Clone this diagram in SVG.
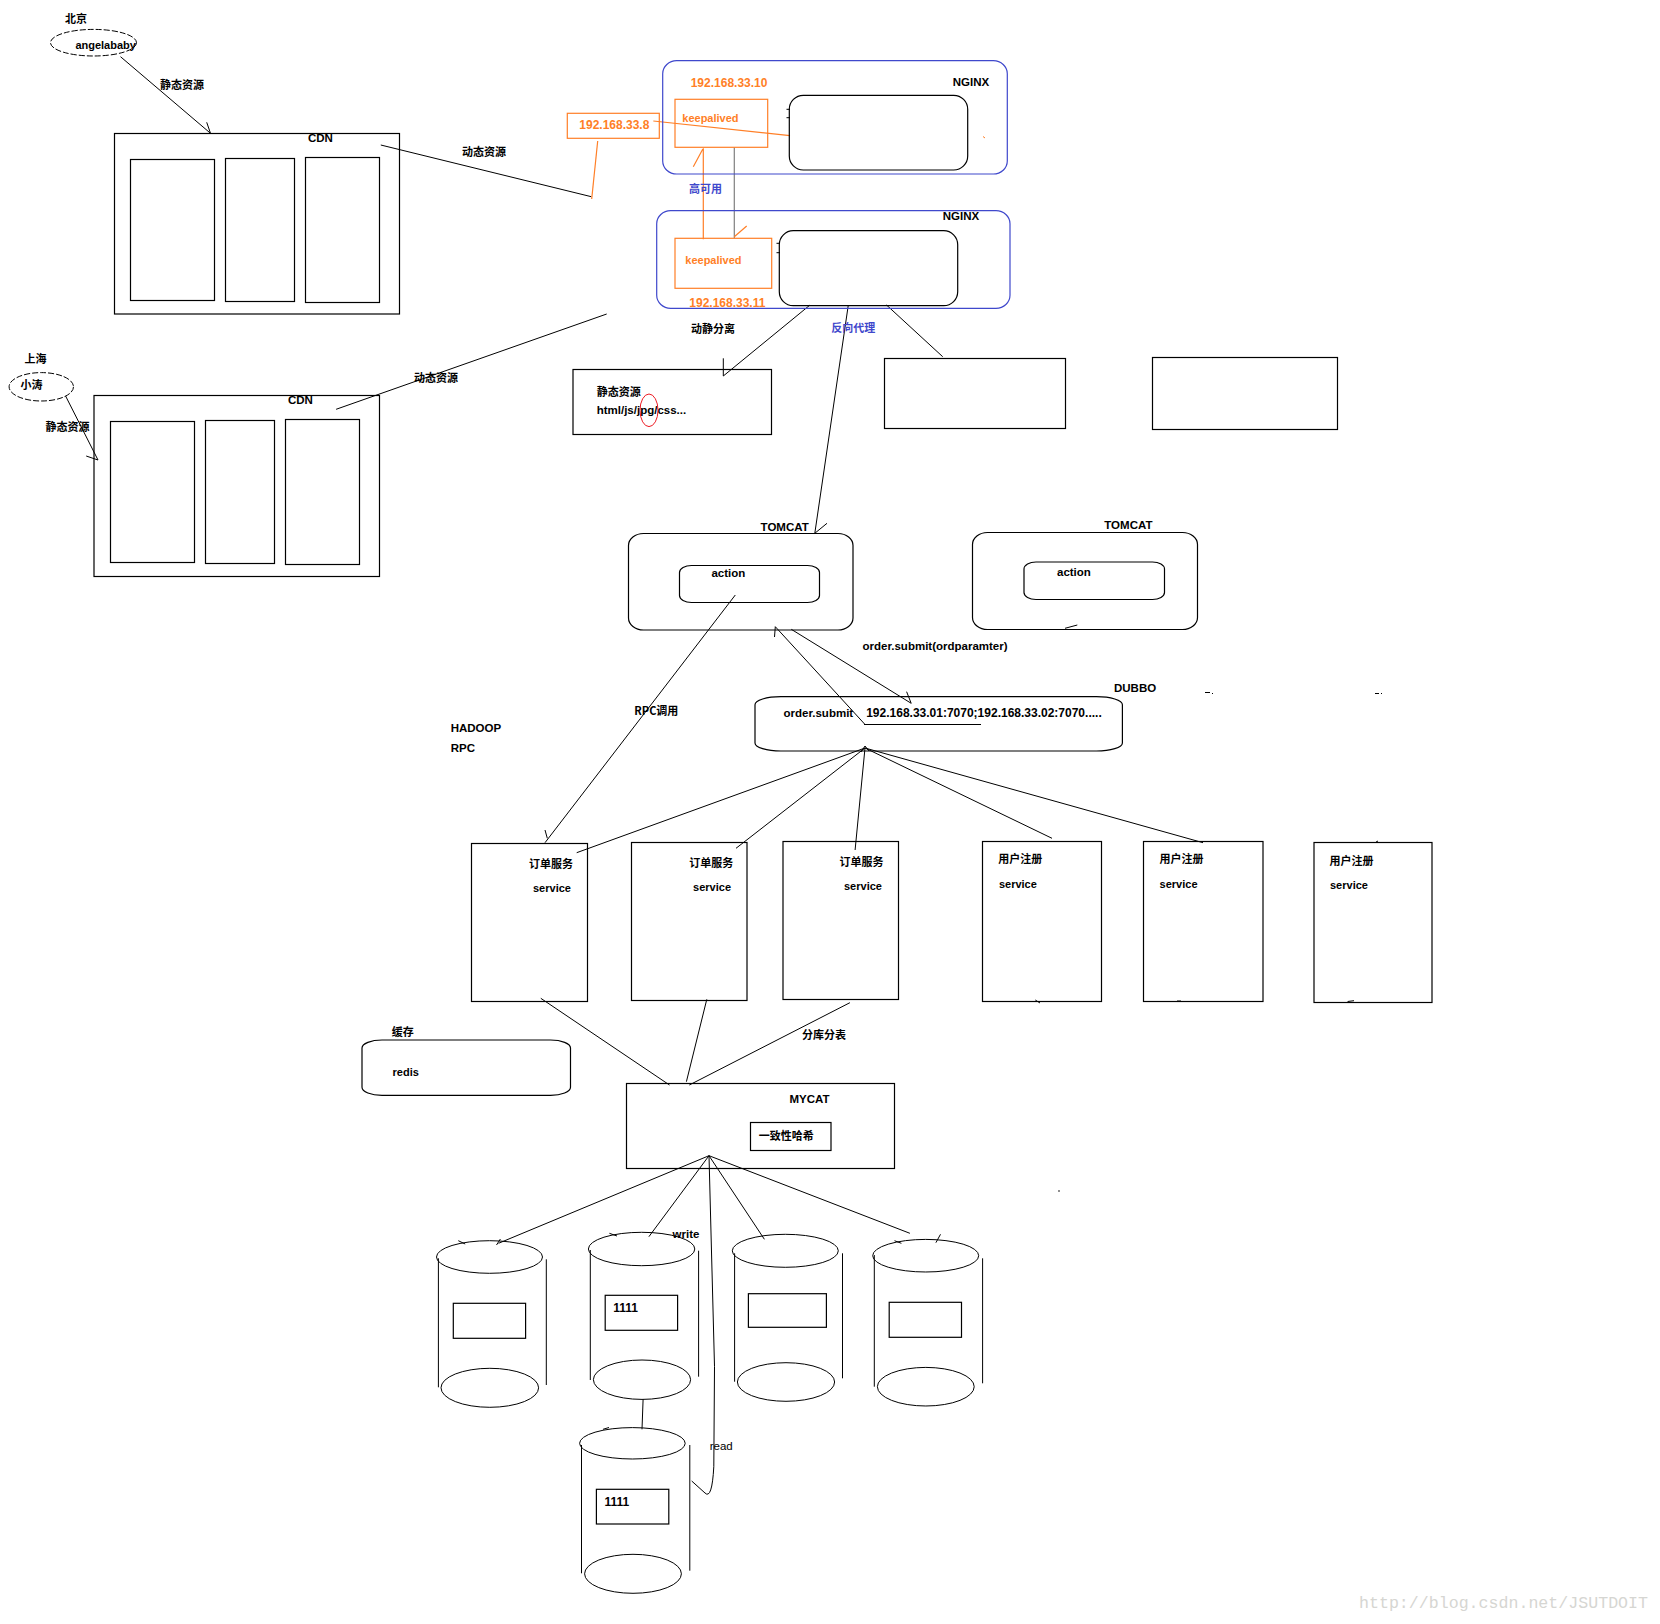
<svg xmlns="http://www.w3.org/2000/svg" width="1660" height="1624" viewBox="0 0 1660 1624">
<style>
.t{font-family:'Liberation Sans','Noto Sans CJK SC',sans-serif;font-size:11.5px;font-weight:bold;fill:#000}
.c{font-family:'Noto Sans CJK SC','Liberation Sans',sans-serif;font-size:11px;font-weight:bold;fill:#000}
.n{font-weight:normal}
.s{font-size:11px}
.or{fill:#ff7f27}
.bl{fill:#3f48cc}
.box{fill:none;stroke:#000;stroke-width:1.2}
.ln{fill:none;stroke:#000;stroke-width:1}
.ob{fill:none;stroke:#ff7f27;stroke-width:1.2}
.bb{fill:none;stroke:#3f48cc;stroke-width:1.2}
.wm{font-family:'Liberation Mono',monospace;font-size:17px;fill:#d6d6d2}
</style>
<rect width="1660" height="1624" fill="#fff"/>

<g id="connectors">
  <path class="ln" d="M120.5 56.7L210.5 133.3M206.7 122.3L210.5 133.3"/>
  <path class="ln" d="M380.8 145L591.3 196.7"/>
  <path class="ob" d="M597.7 141L591.7 199"/>
  <path class="ln" d="M65.6 396L98 460M86.2 456L98 460"/>
  <path class="ln" d="M336.1 409.3L606.7 314"/>
  <path class="ob" d="M653.3 121L790 135.7"/>
  <path class="ob" d="M703.3 148.3V239.3M693.3 166.7L702.7 149.3"/>
  <path fill="none" stroke="#7f7f7f" stroke-width="1.2" d="M734.3 147.3V238.3"/>
  <path class="ob" d="M734.3 236.7L746.7 226"/>
  <path class="ln" d="M810 305L723.3 376M723.3 358.3L723.3 376"/>
  <path class="ln" d="M848.3 305L814.8 533.3M827 523.3L814.8 533.3"/>
  <path class="ln" d="M886.5 305L942.7 356.7"/>
  <path class="ln" d="M735.3 595L545 842.7M545 830L547.3 838.3"/>
  <path class="ln" d="M775.3 626.7L865.5 725M774.5 637L775.3 626.7"/>
  <path class="ln" d="M864 724.5H981"/>
  <path class="ln" d="M791.3 629.3L911.2 703.3M906.6 691.7L911.2 703.3"/>
  <path class="ln" d="M865 748L576.7 852.7M865 748L736 848.3M865 748L855.1 850M865 748L1052 838.3M865 748L1203 842.7M861 752L865 746L869 751"/>
  <path class="ln" d="M540.8 998.3L669.5 1085M706.8 999.3L686.4 1081.7M849.9 1002.7L689.3 1085"/>
  <path class="ln" d="M709 1155.7L498.5 1243.3M709 1155.7L648.9 1236.7M709 1155.7L764.4 1239.3M709 1155.7L909.9 1233.3"/>
  <path class="ln" d="M709 1155.7L714.5 1366.7L713.8 1466.7Q712 1500 705 1493L691.7 1481"/>
  <path class="ln" d="M643.1 1399.3L642 1429.3"/>
  <path class="ln" d="M458.3 1240.7L465.2 1244M500.4 1239L496.5 1245M609.4 1233.3L617 1236M894.5 1240.7L901.4 1243.3M940.5 1234.3L935.9 1242.7M603 1429.3L609 1427.5"/>
</g>

<g id="beijing">
  <text class="c" x="65" y="22.5">北京</text>
  <ellipse class="ln" cx="93.5" cy="42.7" rx="43" ry="13.3" stroke-dasharray="6 2"/>
  <text class="t" x="75.4" y="49" style="font-size:11px">angelababy</text>
</g>
<text class="c" x="160" y="88.5">静态资源</text>

<g id="cdn1">
  <rect class="box" x="114.5" y="133.5" width="285" height="180.5"/>
  <rect class="box" x="130.5" y="159.5" width="84" height="141"/>
  <rect class="box" x="225.5" y="158.5" width="69" height="143"/>
  <rect class="box" x="305.5" y="157.5" width="74" height="145"/>
  <text class="t" x="308" y="141.5">CDN</text>
</g>
<text class="c" x="462" y="156">动态资源</text>

<g id="shanghai">
  <text class="c" x="24.5" y="362.5">上海</text>
  <ellipse class="ln" cx="41.3" cy="386.8" rx="32.2" ry="14.2" stroke-dasharray="6 2"/>
  <text class="c" x="20.6" y="389">小涛</text>
</g>
<text class="c" x="45.5" y="431">静态资源</text>

<g id="cdn2">
  <rect class="box" x="94" y="395.5" width="285.5" height="181"/>
  <rect class="box" x="110.5" y="421.5" width="84" height="141"/>
  <rect class="box" x="205.5" y="420.5" width="69" height="143"/>
  <rect class="box" x="285.5" y="419.5" width="74" height="145"/>
  <text class="t" x="287.9" y="403.5">CDN</text>
</g>
<text class="c" x="414" y="381.5">动态资源</text>

<g id="vip">
  <rect class="ob" x="567.3" y="113.3" width="92" height="25"/>
  <text class="t or" x="579.3" y="129" style="font-size:12px">192.168.33.8</text>
</g>

<g id="nginx1">
  <rect class="bb" x="662.7" y="60.7" width="344.6" height="113.3" rx="14" ry="13"/>
  <text class="t or" x="690.7" y="87" style="font-size:12px">192.168.33.10</text>
  <text class="t" x="952.7" y="85.5">NGINX</text>
  <rect class="ob" x="675" y="99.3" width="92.7" height="48"/>
  <text class="t or" x="682.3" y="122" style="font-size:11px">keepalived</text>
  <rect class="box" x="789.3" y="95.3" width="178.4" height="74.7" rx="14"/>
  <path class="ln" d="M786.5 109.3H790M786.5 117.7H790"/>
  <path stroke="#ff7f27" d="M983 136.5L985 138"/>
</g>

<text class="c bl" x="689" y="192.5">高可用</text>

<g id="nginx2">
  <rect class="bb" x="656.7" y="210.7" width="353.3" height="97.6" rx="14" ry="13"/>
  <text class="t" x="942.7" y="220">NGINX</text>
  <rect class="ob" x="675" y="238.3" width="96.7" height="50"/>
  <text class="t or" x="685.3" y="264" style="font-size:11px">keepalived</text>
  <text class="t or" x="689.3" y="307" style="font-size:12px">192.168.33.11</text>
  <rect class="box" x="779.3" y="230.7" width="178.4" height="75" rx="14"/>
  <path class="ln" d="M776.5 243.3H780M776.5 252.7H780"/>
</g>

<text class="c" x="691" y="332.5">动静分离</text>
<text class="c bl" x="831.3" y="332">反向代理</text>

<g id="static">
  <rect class="box" x="573" y="369.5" width="198.5" height="65"/>
  <text class="c" x="596.7" y="396">静态资源</text>
  <text class="t" x="596.7" y="413.5">html/js/jpg/css...</text>
  <ellipse cx="649" cy="410.3" rx="9" ry="16.3" fill="none" stroke="#ed1c24" stroke-width="1"/>
</g>

<g id="server3"><rect class="box" x="884.5" y="358.5" width="181" height="70"/></g>
<g id="server4"><rect class="box" x="1152.5" y="357.5" width="185" height="72"/></g>

<g id="tomcat1">
  <text class="t" x="760.6" y="530.5">TOMCAT</text>
  <rect class="box" x="628.5" y="533.5" width="224.5" height="96.5" rx="15" ry="12"/>
  <rect class="box" x="679.5" y="565.5" width="140" height="37" rx="12" ry="7"/>
  <text class="t" x="711.4" y="577">action</text>
</g>

<g id="tomcat2">
  <text class="t" x="1104.3" y="529">TOMCAT</text>
  <rect class="box" x="972.5" y="532.5" width="225" height="97" rx="15" ry="12"/>
  <rect class="box" x="1024" y="562" width="140.5" height="37.5" rx="12" ry="7"/>
  <text class="t" x="1057" y="576">action</text>
  <path class="ln" d="M1065 628.3L1077.3 625"/>
</g>

<text class="t" x="862.5" y="650">order.submit(ordparamter)</text>

<g id="dubbo">
  <text class="t" x="1114" y="691.5">DUBBO</text>
  <rect class="box" x="755" y="696.7" width="367.4" height="54.3" rx="26" ry="8"/>
  <text class="t" x="783.5" y="717">order.submit</text>
  <text class="t" x="866.2" y="717" style="font-size:12px">192.168.33.01:7070;192.168.33.02:7070.....</text>
  <path class="ln" d="M1205 692.5H1210M1212 693.5H1213M1375 693.5H1379M1381 693.5H1382"/>
</g>

<text class="c" x="634.3" y="715">RPC调用</text>
<text class="t" x="450.7" y="732">HADOOP</text>
<text class="t" x="450.7" y="752">RPC</text>

<g id="order-service-1">
  <rect class="box" x="471.5" y="843.5" width="116" height="158"/>
  <text class="c" x="529.1" y="868">订单服务</text>
  <text class="t s" x="533" y="892">service</text>
</g>
<g id="order-service-2">
  <rect class="box" x="631.5" y="842.5" width="115.5" height="158"/>
  <text class="c" x="689.2" y="867">订单服务</text>
  <text class="t s" x="693.1" y="891">service</text>
</g>
<g id="order-service-3">
  <rect class="box" x="783" y="841.5" width="115.5" height="158"/>
  <text class="c" x="839.5" y="866">订单服务</text>
  <text class="t s" x="844" y="890">service</text>
</g>
<g id="user-service-1">
  <rect class="box" x="982.5" y="841.5" width="119" height="160"/>
  <text class="c" x="998.2" y="863">用户注册</text>
  <text class="t s" x="998.9" y="888">service</text>
  <path class="ln" d="M1035.3 1000L1040 1003"/>
</g>
<g id="user-service-2">
  <rect class="box" x="1143.5" y="841.5" width="119.5" height="160"/>
  <text class="c" x="1159.6" y="863">用户注册</text>
  <text class="t s" x="1159.6" y="888">service</text>
  <path class="ln" d="M1177 1001H1181"/>
</g>
<g id="user-service-3">
  <rect class="box" x="1314" y="842.5" width="118" height="160"/>
  <text class="c" x="1329.4" y="864.5">用户注册</text>
  <text class="t s" x="1330" y="889">service</text>
  <path class="ln" d="M1347.6 1001.5L1354 1000.7M1376 842L1378 841"/>
</g>

<g id="redis">
  <text class="c" x="391.8" y="1035.5">缓存</text>
  <rect class="box" x="362" y="1040" width="208.5" height="55.3" rx="20" ry="8"/>
  <text class="t s" x="392.6" y="1076">redis</text>
</g>

<text class="c" x="802.1" y="1038.5">分库分表</text>

<g id="mycat">
  <rect class="box" x="626.5" y="1083.5" width="268" height="85"/>
  <text class="t" x="789.5" y="1103">MYCAT</text>
  <rect class="box" x="750.5" y="1122.5" width="80.5" height="28"/>
  <text class="c" x="758.8" y="1139.5">一致性哈希</text>
</g>
<circle cx="1059" cy="1191" r="0.8" fill="#000"/>

<g id="db1">
  <ellipse class="ln" cx="489.5" cy="1257" rx="53" ry="16.3"/>
  <path class="ln" d="M438.4 1258.3V1387.3M546.3 1259.3V1385"/>
  <ellipse class="ln" cx="489.8" cy="1387.8" rx="48.8" ry="19.5"/>
  <rect class="box" x="453.3" y="1303.3" width="72.3" height="35"/>
</g>
<g id="db2">
  <ellipse class="ln" cx="641.6" cy="1249" rx="53.2" ry="16.7"/>
  <path class="ln" d="M590.3 1250V1380M698.6 1250.7V1376.7"/>
  <ellipse class="ln" cx="642" cy="1379.7" rx="48.6" ry="19.7"/>
  <rect class="box" x="605.2" y="1295.3" width="72.4" height="35"/>
  <text class="t" x="613.3" y="1311.5" style="font-size:12px">1111</text>
</g>
<g id="db3">
  <ellipse class="ln" cx="785.3" cy="1250.8" rx="53" ry="16.5"/>
  <path class="ln" d="M734.6 1253.3V1381.7M842.5 1253.3V1378.3"/>
  <ellipse class="ln" cx="786" cy="1382" rx="48.6" ry="19.3"/>
  <rect class="box" x="748.4" y="1293.7" width="78" height="33.6"/>
</g>
<g id="db4">
  <ellipse class="ln" cx="925.7" cy="1255.7" rx="53" ry="16.3"/>
  <path class="ln" d="M874.3 1255V1386.7M982.6 1258.3V1383.3"/>
  <ellipse class="ln" cx="925.8" cy="1386.7" rx="48.4" ry="19.3"/>
  <rect class="box" x="889.2" y="1302.3" width="72.3" height="35"/>
</g>
<g id="db5">
  <ellipse class="ln" cx="632.4" cy="1443.3" rx="52.8" ry="15.7"/>
  <path class="ln" d="M581.5 1445V1573.3M689.8 1445V1570.7"/>
  <ellipse class="ln" cx="633" cy="1573.8" rx="48.4" ry="19.5"/>
  <rect class="box" x="596.4" y="1489.3" width="72.4" height="34.7"/>
  <text class="t" x="604.5" y="1505.5" style="font-size:12px">1111</text>
</g>

<text class="t" x="672.6" y="1238">write</text>
<text class="t n" x="709.7" y="1449.5">read</text>

<text class="wm" x="1359" y="1608" textLength="289" lengthAdjust="spacingAndGlyphs">http://blog.csdn.net/JSUTDOIT</text>
</svg>
